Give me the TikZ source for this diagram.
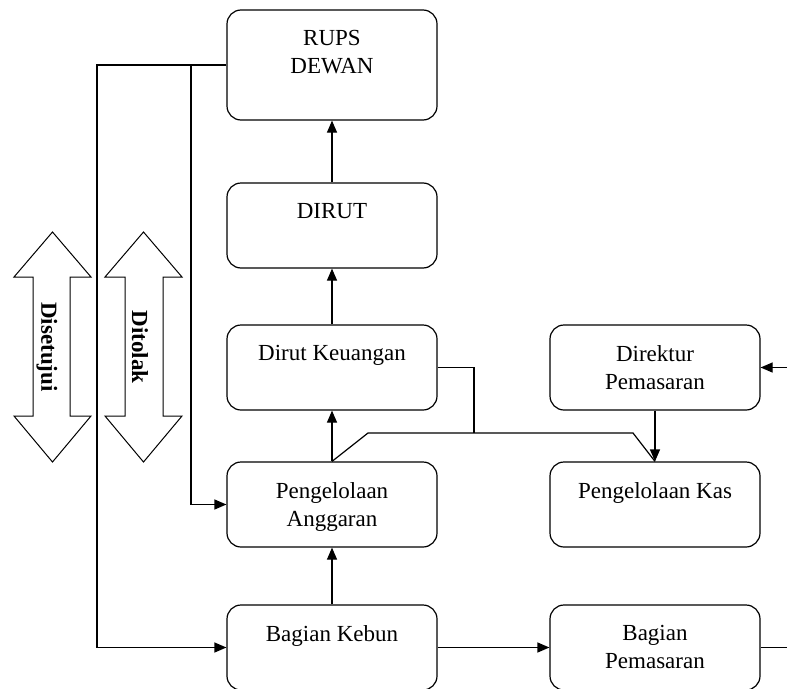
\documentclass[tikz,border=0pt]{standalone}
\usepackage{fontspec}
\setmainfont{Liberation Serif}
\usetikzlibrary{arrows.meta}
\begin{document}
\begin{tikzpicture}[x=1pt,y=-1pt,
  box/.style={draw,line width=1.2pt,rounded corners=14pt,minimum width=210pt,minimum height=85pt,inner sep=0pt},
  lbl/.style={anchor=north,inner sep=0pt,align=center,font=\fontsize{23}{28}\selectfont},
  vlbl/.style={inner sep=0pt,rotate=-90,font=\fontsize{23}{28}\selectfont\bfseries},
  conn/.style={line width=1.2pt},
  arr/.style={conn,-{Triangle[length=12pt,width=10pt]}},
  bigarrow/.style={draw,line width=1pt,fill=white}
]
\useasboundingbox (0,0) rectangle (787,688);
\clip (0,0) rectangle (787,688);
% boxes
\node[box,minimum height=110pt] (rups) at (332,65) {};
\node[box] (dirut) at (332,225.5) {};
\node[box] (keu) at (332,367.5) {};
\node[box] (ang) at (332,504.5) {};
\node[box] (kebun) at (332,647.5) {};
\node[box] (dirp) at (655,367.5) {};
\node[box] (kas) at (655,504.5) {};
\node[box] (bpem) at (655,647.5) {};
% labels
\node[lbl] (rupsT) at ([yshift=-20.5pt]rups.north) {RUPS\\DEWAN};
\node[lbl] (dirutT) at ([yshift=-20.5pt]dirut.north) {DIRUT};
\node[lbl] (keuT) at ([yshift=-20.5pt]keu.north) {Dirut Keuangan};
\node[lbl] (angT) at ([yshift=-20.5pt]ang.north) {Pengelolaan\\Anggaran};
\node[lbl] (kebunT) at ([yshift=-20.5pt]kebun.north) {Bagian Kebun};
\node[lbl] (dirpT) at ([yshift=-20.5pt]dirp.north) {Direktur\\Pemasaran};
\node[lbl] (kasT) at ([yshift=-20.5pt]kas.north) {Pengelolaan Kas};
\node[lbl] (bpemT) at ([yshift=-20.5pt]bpem.north) {Bagian\\Pemasaran};
% big double arrows
\draw[bigarrow] (52.5,232) -- (91,277) -- (70,277) -- (70,416) -- (91,416) -- (52.5,462)
  -- (14,416) -- (33,416) -- (33,277) -- (14,277) -- cycle;
\draw[bigarrow] (143.5,232) -- (182,277) -- (163,277) -- (163,416) -- (182,416) -- (143.5,462)
  -- (105,416) -- (125,416) -- (125,277) -- (105,277) -- cycle;
\node[vlbl] (setuju) at (47,347) {Disetujui};
\node[vlbl] (tolak) at (140,347) {Ditolak};
% coordinates
\coordinate (j1) at (97,65);
\coordinate (j2) at (191,65);
\coordinate (k1) at (474,367.5);
\coordinate (k2) at (474,433);
\coordinate (h1) at (368,433);
\coordinate (h2) at (633,433);
\coordinate (rin) at (787,367.5);
\coordinate (rout) at (787,647.5);
% connectors
\draw[arr] (rups.west) -- (j1) |- (kebun.west);
\draw[arr] (j2) |- (ang.west);
\draw[arr] (dirut.north) -- (rups.south);
\draw[arr] (keu.north) -- (dirut.south);
\draw[arr] (ang.north) -- (keu.south);
\draw[arr] (kebun.north) -- (ang.south);
\draw[arr] (kebun.east) -- (bpem.west);
\draw[conn] (bpem.east) -- (rout);
\draw[arr] (rin) -- (dirp.east);
\draw[arr] (dirp.south) -- (kas.north);
\draw[conn] (keu.east) -- (k1) -- (k2);
\draw[conn] (ang.north) -- (h1) -- (h2) -- (kas.north);
\end{tikzpicture}
\end{document}
